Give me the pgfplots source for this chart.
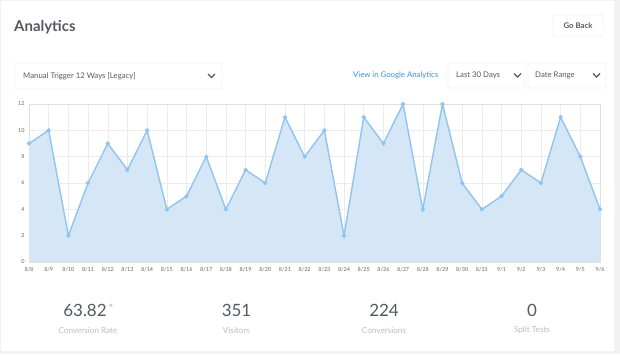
\documentclass[border=0pt]{standalone}
\usepackage{pgfplots}
\pgfplotsset{compat=1.18}
\usepackage{fontspec}
\setmainfont{Lato}
\definecolor{linec}{HTML}{90C4F0}
\definecolor{fillc}{HTML}{D5E7F7}
\definecolor{boxc}{HTML}{E6E6E6}
\definecolor{txt}{HTML}{555A60}
\definecolor{lbl}{HTML}{BDBDBD}
\definecolor{linkc}{HTML}{3B8FE0}
\definecolor{outer}{HTML}{F2F2F2}
\pgfplotstableread{
x y
0 9
1 10
2 2
3 6
4 9
5 7
6 10
7 4
8 5
9 8
10 4
11 7
12 6
13 11
14 8
15 10
16 2
17 11
18 9
19 12
20 4
21 12
22 6
23 4
24 5
25 7
26 6
27 11
28 8
29 4
}\datatable
\begin{document}
\begin{tikzpicture}[x=1bp,y=-1bp]
% card background
\fill[outer] (0,0) rectangle (620,354);
\fill[white] (1,1) rectangle (614,351);
\path[use as bounding box] (0,0) rectangle (620,354);
% header
\node[anchor=base west, inner sep=0pt, text=txt, font=\fontsize{15}{18}\selectfont\bfseries] at (14,31) {Analytics};
\draw[boxc, rounded corners=1.5bp] (553,15) rectangle (603,36);
\node[inner sep=0pt, text=txt, font=\fontsize{7.8}{9}\selectfont\bfseries] at (578,25.5) {Go Back};
% dropdowns
\draw[boxc, rounded corners=1.5bp] (15,63) rectangle (222,89);
\node[anchor=west, inner sep=0pt, text=txt, font=\fontsize{7.8}{9}\selectfont] at (23,76) {Manual Trigger 12 Ways [Legacy]};
\draw[txt, line width=1.1pt] (208,74) -- (211.5,77.5) -- (215,74);
\node[anchor=west, inner sep=0pt, text=linkc, font=\fontsize{7.8}{9}\selectfont] at (353,75) {View in Google Analytics};
\draw[boxc, rounded corners=1.5bp] (448,63) rectangle (525,88);
\node[anchor=west, inner sep=0pt, text=txt, font=\fontsize{7.8}{9}\selectfont] at (456,75) {Last 30 Days};
\draw[txt, line width=1.1pt] (514,73.5) -- (517.5,77) -- (521,73.5);
\draw[boxc, rounded corners=1.5bp] (528,63) rectangle (606,88);
\node[anchor=west, inner sep=0pt, text=txt, font=\fontsize{7.8}{9}\selectfont] at (535,75) {Date Range};
\draw[txt, line width=1.1pt] (593,73.5) -- (596.5,77) -- (600,73.5);
% chart
\begin{axis}[
  at={(29bp,-262bp)}, anchor=south west,
  scale only axis, width=571bp, height=158bp,
  xmin=0, xmax=29, ymin=0, ymax=12,
  xtick={0,...,29},
  xticklabels={8/8,8/9,8/10,8/11,8/12,8/13,8/14,8/15,8/16,8/17,8/18,8/19,8/20,8/21,8/22,8/23,8/24,8/25,8/26,8/27,8/28,8/29,8/30,8/31,9/1,9/2,9/3,9/4,9/5,9/6},
  ytick={0,2,...,12},
  grid=major, grid style={draw=black!8, line width=0.5pt},
  axis line style={draw=black!12},
  major tick length=0pt,
  tick label style={font=\fontsize{5.5}{6}\selectfont, text=black!60},
  /pgf/number format/assume math mode=true,
  xticklabel style={yshift=-2pt},
  yticklabel style={xshift=-1pt},
]
\addplot[fill=fillc, draw=none] table[x=x,y=y] {\datatable} \closedcycle;
\addplot[color=linec, line width=1.4pt, mark=*, mark size=1.4pt, mark options={fill=linec, draw=linec}] table[x=x,y=y] {\datatable};
\end{axis}
% stats
\node[inner sep=0pt, text=txt, font=\fontsize{17}{20}\selectfont] at (85,310) {63.82};
\node[anchor=north west, inner sep=0pt, text=black!45, font=\fontsize{4.5}{5}\selectfont] at (109,304) {\%};
\node[inner sep=0pt, text=txt, font=\fontsize{17}{20}\selectfont] at (236.5,310) {351};
\node[inner sep=0pt, text=txt, font=\fontsize{17}{20}\selectfont] at (384,310) {224};
\node[inner sep=0pt, text=txt, font=\fontsize{17}{20}\selectfont] at (532,310) {0};
\node[inner sep=0pt, text=lbl, font=\fontsize{8.2}{9}\selectfont] at (88,330.5) {Conversion Rate};
\node[inner sep=0pt, text=lbl, font=\fontsize{8.2}{9}\selectfont] at (236.5,330.5) {Visitors};
\node[inner sep=0pt, text=lbl, font=\fontsize{8.2}{9}\selectfont] at (384,330.5) {Conversions};
\node[inner sep=0pt, text=lbl, font=\fontsize{8.2}{9}\selectfont] at (532,330.5) {Split Tests};
\end{tikzpicture}
\end{document}
